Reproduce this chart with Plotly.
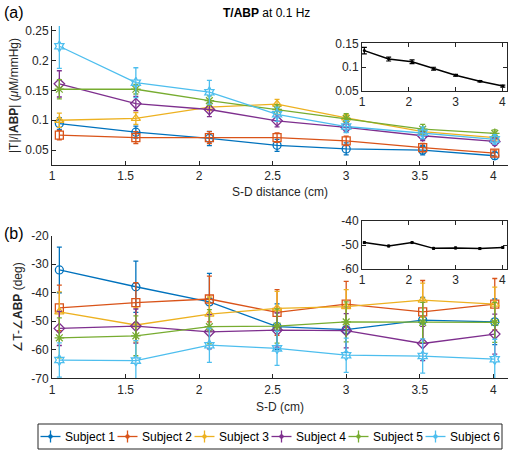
import plotly.graph_objects as go

W, H = 510, 451

# ---------------- data ----------------
sd = [1.05, 1.57, 2.07, 2.53, 3.0, 3.52, 4.01]
subjects = ["Subject 1", "Subject 2", "Subject 3", "Subject 4", "Subject 5", "Subject 6"]

mag_s1 = [0.0945, 0.080, 0.0695, 0.058, 0.052, 0.050, 0.0405]
mag_s2 = [0.075, 0.071, 0.071, 0.071, 0.0655, 0.054, 0.045]
mag_s3 = [0.100, 0.103, 0.122, 0.127, 0.104, 0.081, 0.071]
mag_s4 = [0.161, 0.128, 0.118, 0.099, 0.088, 0.074, 0.0645]
mag_s5 = [0.152, 0.152, 0.133, 0.118, 0.103, 0.085, 0.078]
mag_s6 = [0.224, 0.163, 0.147, 0.110, 0.0895, 0.079, 0.068]

mag_e1 = [0.010, 0.010, 0.012, 0.010, 0.010, 0.008, 0.006]
mag_e2 = [0.008, 0.010, 0.010, 0.008, 0.008, 0.007, 0.005]
mag_e3 = [0.012, 0.010, 0.006, 0.008, 0.006, 0.006, 0.006]
mag_e4 = [0.022, 0.012, 0.012, 0.010, 0.008, 0.008, 0.006]
mag_e5 = [0.016, 0.008, 0.008, 0.008, 0.008, 0.008, 0.006]
mag_e6 = [0.037, 0.025, 0.020, 0.012, 0.010, 0.010, 0.008]

mag_mean = [0.1346, 0.1167, 0.111, 0.0965, 0.0825, 0.070, 0.0597]
mag_mean_e = [0.007, 0.004, 0.004, 0.003, 0.002, 0.0015, 0.002]

ph_s1 = [-32.0, -37.9, -43.2, -51.9, -52.9, -49.6, -50.2]
ph_s2 = [-45.3, -43.5, -42.2, -46.9, -44.0, -46.7, -44.0]
ph_s3 = [-46.7, -51.3, -47.5, -45.5, -44.9, -42.6, -44.0]
ph_s4 = [-52.5, -51.7, -53.7, -53.1, -53.3, -57.8, -54.5]
ph_s5 = [-55.8, -55.1, -51.9, -51.7, -50.2, -50.4, -50.4]
ph_s6 = [-63.6, -63.8, -58.4, -59.5, -61.9, -62.2, -63.3]

ph_e1 = [8, 9, 10, 8, 8, 8, 8]
ph_e2 = [8, 7, 8, 8, 8, 11, 9]
ph_e3 = [7, 6, 6, 6, 6, 6, 6]
ph_e4 = [6, 6, 6, 6, 6, 6, 7]
ph_e5 = [7, 7, 6, 6, 7, 7, 7]
ph_e6 = [6, 7, 6, 6, 6, 6, 7]

ph_mean = [-49.0, -50.4, -49.0, -51.4, -51.2, -51.5, -51.0]
ph_mean_e = [0.4, 0.4, 0.4, 0.4, 0.4, 0.4, 0.4]

mag_ticks = [0.05, 0.1, 0.15, 0.2, 0.25]
ph_ticks = [-70, -60, -50, -40, -30, -20]
ph_ticktext = ["-70", "-60", "-50", "-40", "-30", "-20"]
x_ticks = [1, 1.5, 2, 2.5, 3, 3.5, 4]
inset_x_ticks = [1, 2, 3, 4]
inset_mag_ticks = [0.05, 0.1, 0.15]
inset_ph_ticks = [-60, -50, -40]
inset_ph_ticktext = ["-60", "-50", "-40"]

# ---------------- style ----------------
colors = ["#0072BD", "#D95319", "#EDB120", "#7E2F8E", "#77AC30", "#4DBEEE"]
symbols = ["circle-open", "square-open", "triangle-up-open", "diamond-open",
           "asterisk-open", "hexagram-open"]
FONT = "Liberation Sans, Arial, sans-serif"
AX = "#262626"
FS = 12

mags = [mag_s1, mag_s2, mag_s3, mag_s4, mag_s5, mag_s6]
mag_errs = [mag_e1, mag_e2, mag_e3, mag_e4, mag_e5, mag_e6]
phs = [ph_s1, ph_s2, ph_s3, ph_s4, ph_s5, ph_s6]
ph_errs = [ph_e1, ph_e2, ph_e3, ph_e4, ph_e5, ph_e6]

fig = go.Figure()

for i in range(6):
    fig.add_trace(go.Scatter(
        x=sd, y=mags[i], mode="lines+markers", name=subjects[i], showlegend=False,
        line=dict(color=colors[i], width=1.3),
        marker=dict(symbol=symbols[i], size=8, color=colors[i], line=dict(width=1.3, color=colors[i])),
        error_y=dict(type="data", array=mag_errs[i], color=colors[i], thickness=1.3, width=2.5),
        xaxis="x", yaxis="y"))
for i in range(6):
    fig.add_trace(go.Scatter(
        x=sd, y=phs[i], mode="lines+markers", name=subjects[i], showlegend=False,
        line=dict(color=colors[i], width=1.3),
        marker=dict(symbol=symbols[i], size=8, color=colors[i], line=dict(width=1.3, color=colors[i])),
        error_y=dict(type="data", array=ph_errs[i], color=colors[i], thickness=1.3, width=2.5),
        xaxis="x3", yaxis="y3"))

# insets (mean over subjects)
fig.add_trace(go.Scatter(
    x=sd, y=mag_mean, mode="lines+markers", showlegend=False,
    line=dict(color="black", width=1.5), marker=dict(size=3, color="black"),
    error_y=dict(type="data", array=mag_mean_e, color="black", thickness=1.2, width=2.5),
    xaxis="x2", yaxis="y2"))
fig.add_trace(go.Scatter(
    x=sd, y=ph_mean, mode="lines+markers", showlegend=False,
    line=dict(color="black", width=1.5), marker=dict(size=3, color="black"),
    error_y=dict(type="data", array=ph_mean_e, color="black", thickness=1.0, width=1.5),
    xaxis="x4", yaxis="y4"))

# ---------------- layout (pixel helpers; margins 0 so paper == full figure) ----------------
px = lambda v: v / W
py = lambda v: (H - v) / H

def dom_x(a, b):
    return [px(a), px(b)]

def dom_y(top, bottom):
    return [py(bottom), py(top)]

tickfont = dict(family=FONT, size=FS, color=AX)
common = dict(showgrid=False, zeroline=False, showline=True, linecolor=AX, linewidth=1,
              ticks="inside", ticklen=4, tickcolor=AX, tickfont=tickfont, automargin=False)

fig.update_layout(
    width=W, height=H, margin=dict(l=0, r=0, t=0, b=0, pad=0),
    paper_bgcolor="white", plot_bgcolor="white",
    font=dict(family=FONT, size=FS, color=AX),
    showlegend=False,
    xaxis=dict(domain=dom_x(52, 508), range=[1, 4.1], tickvals=x_ticks, anchor="y",
               title=dict(text="S-D distance (cm)", standoff=5, font=dict(size=FS)), **common),
    yaxis=dict(domain=dom_y(26, 165), range=[0.025, 0.258], tickvals=mag_ticks, anchor="x",
               title=dict(text="|T|/|<b>ABP</b>| (<i>μ</i>M/mmHg)", standoff=4, font=dict(size=FS)),
               **common),
    xaxis2=dict(domain=dom_x(362, 507), range=[1, 4.1], tickvals=inset_x_ticks, anchor="y2",
                mirror="ticks", **common),
    yaxis2=dict(domain=dom_y(43.3, 90.7), range=[0.05, 0.15], tickvals=inset_mag_ticks, anchor="x2",
                mirror="ticks", **common),
    xaxis3=dict(domain=dom_x(52, 508), range=[1, 4.1], tickvals=x_ticks, anchor="y3",
                title=dict(text="S-D (cm)", standoff=6, font=dict(size=FS)), **common),
    yaxis3=dict(domain=dom_y(235.7, 378.3), range=[-70, -20], tickvals=ph_ticks, ticktext=ph_ticktext,
                anchor="x3", title=dict(text="∠T-∠<b>ABP</b> (deg)", standoff=6, font=dict(size=FS)),
                **common),
    xaxis4=dict(domain=dom_x(362, 507), range=[1, 4.1], tickvals=inset_x_ticks, anchor="y4",
                mirror="ticks", **common),
    yaxis4=dict(domain=dom_y(221, 269), range=[-60, -40], tickvals=inset_ph_ticks,
                ticktext=inset_ph_ticktext, anchor="x4", mirror="ticks", **common),
)

annotations = [
    dict(text="(a)", x=px(2), y=py(12), xref="paper", yref="paper",
         xanchor="left", yanchor="middle", showarrow=False, font=dict(size=16, color="black")),
    dict(text="(b)", x=px(2), y=py(233), xref="paper", yref="paper",
         xanchor="left", yanchor="middle", showarrow=False, font=dict(size=16, color="black")),
    dict(text="<b>T/ABP</b> at 0.1 Hz", x=px(266), y=py(13), xref="paper", yref="paper",
         xanchor="center", yanchor="middle", showarrow=False, font=dict(size=FS, color="black")),
]

# ---------------- legend (MATLAB-style compact, horizontal) ----------------
LEG_L, LEG_R, LEG_T, LEG_B = 38, 502, 424, 449
ITEM0, STEP, GLYPH = 40.5, 77, 20
yc = (LEG_T + LEG_B) / 2
shapes = [dict(type="rect", xref="paper", yref="paper", x0=px(LEG_L), x1=px(LEG_R),
               y0=py(LEG_B), y1=py(LEG_T), line=dict(color=AX, width=1), fillcolor="white",
               layer="above")]
for i, name in enumerate(subjects):
    x0 = ITEM0 + STEP * i
    xm = x0 + GLYPH / 2
    shapes.append(dict(type="line", xref="paper", yref="paper", x0=px(x0), x1=px(x0 + GLYPH),
                       y0=py(yc), y1=py(yc), line=dict(color=colors[i], width=1.3), layer="above"))
    shapes.append(dict(type="line", xref="paper", yref="paper", x0=px(xm), x1=px(xm),
                       y0=py(yc - 6), y1=py(yc + 6), line=dict(color=colors[i], width=1.3), layer="above"))
    shapes.append(dict(type="circle", xref="paper", yref="paper", x0=px(xm - 1.8), x1=px(xm + 1.8),
                       y0=py(yc + 1.8), y1=py(yc - 1.8), line=dict(color=colors[i], width=1),
                       fillcolor=colors[i], layer="above"))
    annotations.append(dict(text=name, x=px(x0 + GLYPH + 2), y=py(yc), xref="paper", yref="paper",
                            xanchor="left", yanchor="middle", showarrow=False,
                            font=dict(size=FS, color="black")))

fig.update_layout(annotations=annotations, shapes=shapes)

fig.write_html("out.html", config={"displayModeBar": False},
               post_script="document.body.style.margin='0';document.body.style.padding='0';"
                           "document.body.style.overflow='hidden';")
